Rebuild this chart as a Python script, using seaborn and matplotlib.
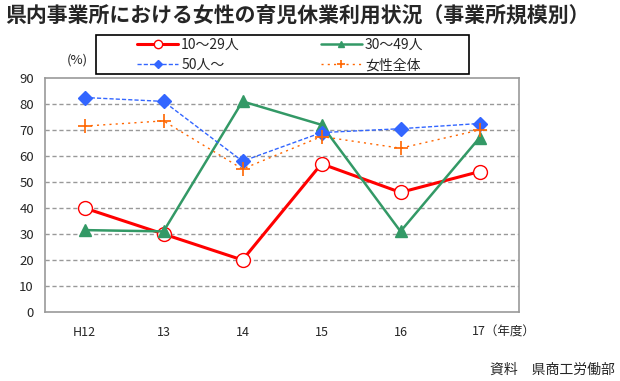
import matplotlib
matplotlib.use("Agg")
import matplotlib.pyplot as plt
import matplotlib.transforms as mtransforms
from matplotlib.lines import Line2D
from matplotlib.patches import Rectangle
import seaborn as sns
import pandas as pd

years = ["H12", "13", "14", "15", "16", "17（年度）"]
small = [40, 30, 20, 57, 46, 54]        # 10～29人
medium = [31.5, 31, 81, 72, 31, 67]     # 30～49人
large = [82.5, 81, 58, 69, 70.5, 72.5]  # 50人～
total = [71.5, 73.5, 55, 67.5, 63, 70]  # 女性全体

sns.set_style("white")
plt.rcParams['font.family'] = ['Noto Sans CJK JP', 'DejaVu Sans']

fig = plt.figure(figsize=(6.2, 3.81), dpi=100)
ax = fig.add_axes([45 / 620, 69 / 381, 474 / 620, 234 / 381])

df = pd.DataFrame({"year": years, "small": small, "medium": medium,
                   "large": large, "total": total})

styles = {
    "small": dict(color="#FF0000", lw=2.2, ls="-", marker="o", ms=10, mfc="white", mew=1),
    "medium": dict(color="#339966", lw=1.8, ls="-", marker="^", ms=8, mfc="#339966", mew=1),
    "large": dict(color="#3366FF", lw=1, ls=(0, (3, 1.5)), marker="D", ms=7, mfc="#3366FF", mew=1),
    "total": dict(color="#FF6600", lw=1, ls=(0, (1.5, 3)), marker="+", ms=10, mfc="#FF6600", mew=1.2),
}
names = {"small": "10～29人", "medium": "30～49人", "large": "50人～", "total": "女性全体"}

for col, st in styles.items():
    sns.lineplot(data=df, x="year", y=col, ax=ax, color=st["color"], lw=st["lw"],
                 linestyle=st["ls"], marker=st["marker"], markersize=st["ms"],
                 markerfacecolor=st["mfc"], markeredgecolor=st["color"],
                 markeredgewidth=st["mew"])

ax.set_xlim(-0.5, 5.5)
ax.set_ylim(0, 90)
ax.set_yticks(range(0, 91, 10))
ax.set_xlabel("")
ax.set_ylabel("")
ax.set_xticks([i + 0.5 for i in range(5)], minor=True)
ax.tick_params(axis="x", which="major", length=0, pad=10, labelsize=9)
ax.tick_params(axis="x", which="minor", direction="in", length=4, color="#999999")
ax.tick_params(axis="y", length=0, pad=8, labelsize=9.5)
shift = mtransforms.ScaledTranslation(-8 / 100, 0, fig.dpi_scale_trans)
for lab in ax.get_xticklabels():
    if lab.get_text().startswith("17"):
        lab.set_horizontalalignment("left")
        lab.set_transform(lab.get_transform() + shift)
for y in range(10, 90, 10):
    ax.axhline(y, color="#999999", lw=1, ls=(0, (3, 2)), zorder=0)
for s in ax.spines.values():
    s.set_color("#999999")
    s.set_linewidth(1.2)

# legend: small markers, frame drawn as separate box
handles = {}
for col, st in styles.items():
    handles[col] = Line2D([], [], color=st["color"], lw=st["lw"], ls=st["ls"],
                          marker=st["marker"], ms=st["ms"] * 0.6, mfc=st["mfc"],
                          mec=st["color"], mew=st["mew"])
order = ["small", "large", "medium", "total"]
fig.legend([handles[k] for k in order], [names[k] for k in order], ncol=2,
           loc="upper left", bbox_to_anchor=(134 / 620, 1 - 35 / 381),
           fontsize=10, handlelength=3.0, frameon=False, borderaxespad=0,
           handletextpad=0.2, labelspacing=0.45, borderpad=0.2,
           columnspacing=5.8)
fig.patches.append(Rectangle((96 / 620, 1 - 74 / 381), 373 / 620, 39 / 381,
                             transform=fig.transFigure, fill=False,
                             edgecolor="black", lw=1.2))

fig.text(5 / 620, 1 - 16 / 381, "県内事業所における女性の育児休業利用状況（事業所規模別）",
         fontsize=15, fontweight="bold", va="center", ha="left")
fig.text(77 / 620, 1 - 60 / 381, "(%)", fontsize=9.5, va="center", ha="center")
fig.text(615 / 620, 1 - 370 / 381, "資料　県商工労働部", fontsize=10, va="center", ha="right")

fig.savefig("out.png", dpi=100)
